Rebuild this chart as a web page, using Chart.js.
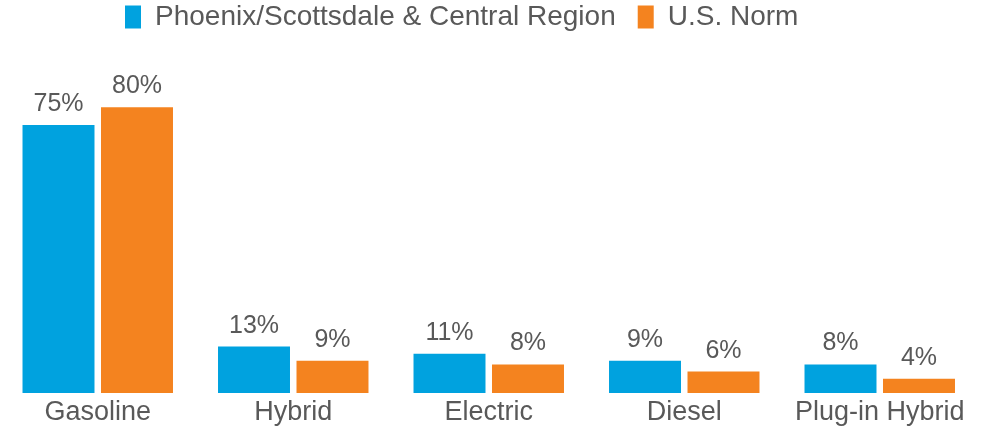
<!DOCTYPE html>
<html>
<head>
<meta charset="utf-8">
<script src="https://cdn.jsdelivr.net/npm/chart.js@4/dist/chart.umd.min.js"></script>
<style>
  html, body { margin: 0; padding: 0; background: #fff; }
  #wrap { width: 989px; height: 428px; }
</style>
</head>
<body>
<div id="wrap"><canvas id="fuelChart"></canvas></div>
<script>
// Fuel type shares, region vs national norm
const categories = ['Gasoline', 'Hybrid', 'Electric', 'Diesel', 'Plug-in Hybrid'];
const regionValues = [75, 13, 11, 9, 8];
const usNormValues = [80, 9, 8, 6, 4];
const seriesNames = ['Phoenix/Scottsdale & Central Region', 'U.S. Norm'];

const textColor = '#595959';
const fontFamily = '"Liberation Sans", Arial, sans-serif';

// percentage labels above every bar
const barLabels = {
    id: 'barLabels',
    afterDatasetsDraw(chart) {
        const ctx = chart.ctx;
        ctx.save();
        ctx.fillStyle = textColor;
        ctx.font = '25px ' + fontFamily;
        ctx.textAlign = 'center';
        ctx.textBaseline = 'alphabetic';
        chart.data.datasets.forEach((ds, i) => {
            chart.getDatasetMeta(i).data.forEach((bar, j) => {
                ctx.fillText(ds.data[j] + '%', bar.x, bar.y - 14);
            });
        });
        ctx.restore();
    }
};

// keep the legend in the top-left band
const legendPlace = {
    id: 'legendPlace',
    afterLayout(chart) {
        const lg = chart.legend;
        if (!lg) return;
        const pad = lg.options.labels.padding;
        lg.left = 125 - pad;
        lg.right = lg.left + 900;
        lg.top = 3 - pad;
        lg.bottom = lg.top + lg.height;
    }
};

const ctx = document.getElementById('fuelChart').getContext('2d');
const fuelChart = new Chart(ctx, {
    type: 'bar',
    data: {
        labels: categories,
        datasets: [{
            label: seriesNames[0],
            data: regionValues,
            backgroundColor: '#00A2DF',
            borderWidth: 0
        }, {
            label: seriesNames[1],
            data: usNormValues,
            backgroundColor: '#F4831F',
            borderWidth: 0
        }]
    },
    options: {
        responsive: true,
        maintainAspectRatio: false,
        animation: false,
        layout: { padding: { left: 0, right: 11.5, top: 0, bottom: 0 } },
        datasets: {
            bar: { categoryPercentage: 0.803, barPercentage: 0.917 }
        },
        plugins: {
            tooltip: { enabled: false },
            legend: {
                position: 'top',
                align: 'start',
                labels: {
                    boxWidth: 16,
                    boxHeight: 23,
                    padding: 22,
                    color: textColor,
                    font: { family: fontFamily, size: 28 }
                }
            }
        },
        scales: {
            x: {
                grid: { display: false, drawTicks: false },
                border: { display: false },
                ticks: {
                    color: textColor,
                    padding: 3,
                    font: { family: fontFamily, size: 27 }
                },
                afterFit(scale) {
                    scale.height = 35;
                }
            },
            y: {
                display: false,
                min: 0,
                max: 93.2
            }
        }
    },
    plugins: [barLabels, legendPlace]
});
</script>
</body>
</html>
